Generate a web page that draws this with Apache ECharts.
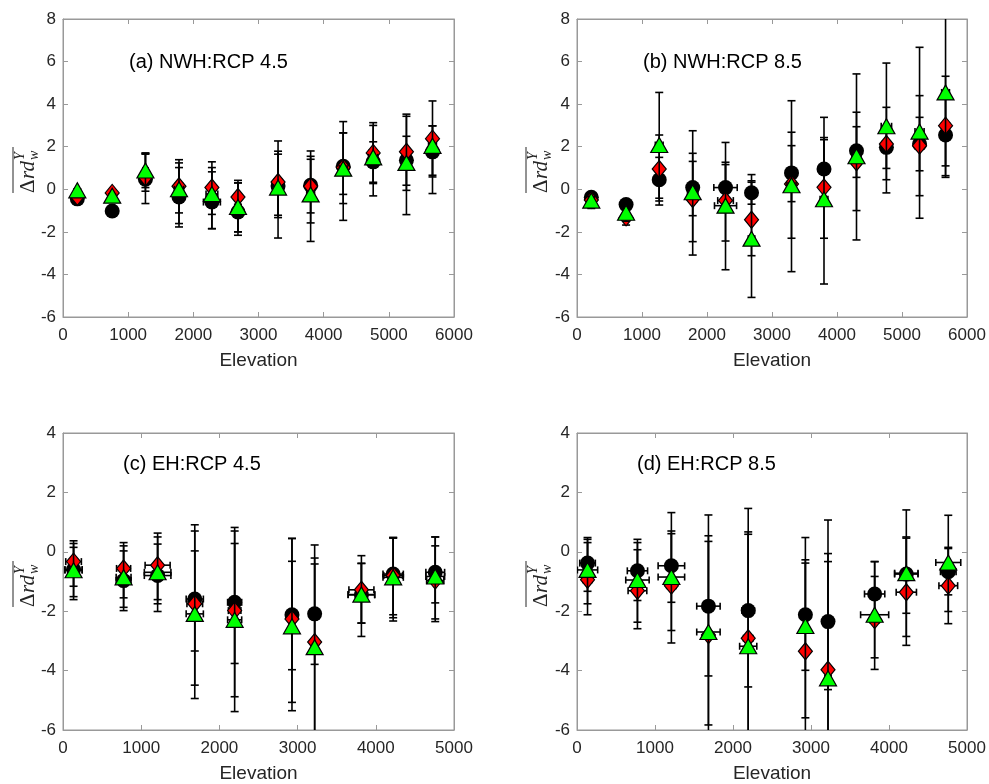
<!DOCTYPE html>
<html><head><meta charset="utf-8">
<script src="https://cdn.jsdelivr.net/npm/echarts@6/dist/echarts.min.js"></script>
<style>html,body{margin:0;padding:0;background:#fff}#c{width:989px;height:784px}</style>
</head><body><div id="c"></div>
<script>
// ---------------- DATA ----------------
const elevNWH = [220, 755, 1265, 1780, 2285, 2685, 3300, 3800, 4300, 4760, 5270, 5670];
const elevEH  = [135, 775, 1210, 1685, 2195, 2928, 3218, 3816, 4222, 4760];
const ticksY_NWH = [-6, -4, -2, 0, 2, 4, 6, 8];
const ticksY_EH  = [-6, -4, -2, 0, 2, 4];

// (a) NWH:RCP 4.5
const a_black_y  = [-0.45, -1.02, 0.47, -0.36, -0.60, -1.07, 0.15, 0.19, 1.08, 1.29, 1.36, 1.76];
const a_black_lo = [-0.55, -1.10, -0.67, -1.61, -1.85, -2.16, -1.33, -1.58, -0.67, 0.33, 0.19, 0.58];
const a_black_hi = [-0.35, -0.95, 1.65, 1.02, 0.82, 0.30, 1.65, 1.80, 2.65, 2.23, 2.49, 2.98];
const a_black_xe = [0, 0, 50, 80, 130, 60, 80, 60, 70, 80, 60, 60];
const a_red_y    = [-0.35, -0.17, 0.55, 0.14, 0.08, -0.36, 0.34, 0.14, 1.02, 1.71, 1.76, 2.38];
const a_red_lo   = [-0.45, -0.25, -0.09, -1.11, -1.18, -2.00, -1.22, -1.11, -0.24, -0.31, -0.05, 0.66];
const a_red_hi   = [-0.25, -0.10, 1.71, 1.39, 1.29, 0.42, 1.79, 1.41, 3.18, 3.13, 3.53, 4.15];
const a_red_xe   = [0, 0, 40, 60, 60, 40, 60, 50, 50, 60, 50, 50];
const a_green_y  = [-0.05, -0.30, 0.88, 0.00, -0.22, -0.83, 0.08, -0.24, 0.97, 1.50, 1.24, 2.04];
const a_green_lo = [-0.12, -0.38, 0.08, -1.77, -1.85, -2.00, -2.29, -2.45, -1.46, 0.27, -1.19, -0.20];
const a_green_hi = [0.02, -0.22, 1.68, 1.24, 1.02, 0.30, 2.27, 1.55, 2.65, 3.00, 3.43, 2.98];
const a_green_xe = [0, 0, 40, 70, 90, 50, 70, 60, 60, 70, 60, 60];

// (b) NWH:RCP 8.5
const b_black_y  = [-0.38, -0.72, 0.45, 0.08, 0.08, -0.16, 0.77, 0.95, 1.81, 1.97, 2.13, 2.55];
const b_black_lo = [-0.55, -0.90, -0.55, -1.24, -1.00, -0.70, -0.58, -0.45, 0.56, 0.98, 0.87, 0.56];
const b_black_hi = [-0.20, -0.55, 1.50, 1.31, 1.16, 0.40, 2.05, 2.33, 2.94, 2.96, 3.38, 4.50];
const b_black_xe = [30, 30, 40, 60, 180, 50, 50, 50, 60, 60, 50, 50];
const b_red_y    = [-0.50, -1.32, 0.95, -0.46, -0.53, -1.43, 0.25, 0.09, 1.27, 2.13, 2.05, 2.99];
const b_red_lo   = [-0.90, -1.68, -0.74, -2.46, -2.43, -3.12, -2.30, -2.30, -1.00, 0.45, -0.30, 0.64];
const b_red_hi   = [-0.20, -0.95, 2.55, 1.69, 1.27, 0.33, 2.68, 2.43, 3.62, 3.85, 4.40, 5.31];
const b_red_xe   = [30, 30, 40, 60, 120, 50, 60, 50, 60, 60, 60, 60];
const b_green_y  = [-0.53, -1.10, 2.08, -0.14, -0.77, -2.32, 0.19, -0.47, 1.55, 2.96, 2.71, 4.55];
const b_green_lo = [-0.70, -1.50, -0.42, -3.09, -3.78, -5.08, -3.87, -4.45, -2.38, -0.17, -1.36, 1.10];
const b_green_hi = [-0.35, -0.70, 4.55, 2.75, 2.20, 0.69, 4.16, 3.38, 5.42, 5.93, 6.67, 8.50];
const b_green_xe = [40, 40, 60, 80, 170, 50, 70, 60, 70, 80, 70, 60];

// (c) EH:RCP 4.5
const c_black_y  = [-0.60, -0.97, -0.80, -1.59, -1.70, -2.12, -2.09, -1.45, -0.75, -0.69];
const c_black_lo = [-1.51, -1.87, -1.75, -3.34, -3.76, -3.97, -3.79, -2.40, -2.12, -1.72];
const c_black_hi = [0.28, 0.20, 0.50, 0.03, 0.28, -0.32, -0.41, -0.39, 0.48, 0.20];
const c_black_xe = [110, 95, 170, 110, 90, 30, 30, 170, 130, 120];
const c_red_y    = [-0.33, -0.56, -0.45, -1.75, -1.98, -2.26, -3.04, -1.28, -0.80, -0.97];
const c_red_lo   = [-1.16, -1.55, -1.61, -4.49, -4.88, -5.07, -6.30, -2.40, -2.22, -2.26];
const c_red_hi   = [0.37, 0.31, 0.63, 0.91, 0.82, 0.45, 0.23, -0.13, 0.46, 0.50];
const c_red_xe   = [100, 90, 160, 100, 80, 30, 30, 160, 120, 110];
const c_green_y  = [-0.62, -0.86, -0.69, -2.09, -2.29, -2.51, -3.21, -1.44, -0.86, -0.83];
const c_green_lo = [-1.61, -1.98, -2.01, -4.94, -5.38, -5.35, -6.50, -2.85, -2.33, -2.35];
const c_green_hi = [0.15, 0.03, 0.26, 0.70, 0.70, 0.45, -0.21, -0.39, 0.48, 0.50];
const c_green_xe = [110, 95, 170, 110, 90, 30, 30, 170, 130, 120];

// (d) EH:RCP 8.5
const d_black_y  = [-0.38, -0.64, -0.47, -1.83, -1.98, -2.12, -2.35, -1.42, -0.75, -0.67];
const d_black_lo = [-1.33, -1.64, -1.70, -4.18, -4.55, -3.99, -4.64, -2.40, -2.07, -1.45];
const d_black_hi = [0.48, 0.31, 0.70, 0.54, 0.59, -0.27, -0.06, -0.33, 0.50, 0.11];
const d_black_xe = [100, 130, 170, 150, 80, 30, 30, 130, 150, 100];
const d_red_y    = [-0.94, -1.31, -1.14, -2.80, -2.91, -3.35, -3.97, -2.30, -1.36, -1.14];
const d_red_lo   = [-2.12, -2.59, -3.07, -5.83, -6.50, -6.50, -7.60, -3.57, -3.15, -2.42];
const d_red_hi   = [0.31, 0.07, 0.61, 0.35, 0.67, -0.38, -0.33, -0.83, 0.46, 0.15];
const d_red_xe   = [60, 120, 60, 40, 60, 30, 30, 60, 130, 120];
const d_green_y  = [-0.61, -0.95, -0.85, -2.70, -3.18, -2.50, -4.26, -2.12, -0.72, -0.36];
const d_green_lo = [-1.75, -2.37, -2.65, -6.60, -7.80, -5.59, -9.60, -3.96, -2.85, -2.01];
const d_green_hi = [0.42, 0.42, 1.32, 1.24, 1.46, 0.48, 1.07, -0.33, 1.41, 1.23];
const d_green_xe = [130, 150, 170, 150, 110, 30, 40, 180, 150, 160];

const panelTitles = ['(a) NWH:RCP 4.5', '(b) NWH:RCP 8.5', '(c) EH:RCP 4.5', '(d) EH:RCP 8.5'];
const xLabel = 'Elevation';

// ---------------- BUILD ----------------
const panels = [
  {elev: elevNWH, xMax: 6000, yT: ticksY_NWH, s: [
    [a_black_y, a_black_lo, a_black_hi, a_black_xe],
    [a_red_y, a_red_lo, a_red_hi, a_red_xe],
    [a_green_y, a_green_lo, a_green_hi, a_green_xe]]},
  {elev: elevNWH, xMax: 6000, yT: ticksY_NWH, s: [
    [b_black_y, b_black_lo, b_black_hi, b_black_xe],
    [b_red_y, b_red_lo, b_red_hi, b_red_xe],
    [b_green_y, b_green_lo, b_green_hi, b_green_xe]]},
  {elev: elevEH, xMax: 5000, yT: ticksY_EH, s: [
    [c_black_y, c_black_lo, c_black_hi, c_black_xe],
    [c_red_y, c_red_lo, c_red_hi, c_red_xe],
    [c_green_y, c_green_lo, c_green_hi, c_green_xe]]},
  {elev: elevEH, xMax: 5000, yT: ticksY_EH, s: [
    [d_black_y, d_black_lo, d_black_hi, d_black_xe],
    [d_red_y, d_red_lo, d_red_hi, d_red_xe],
    [d_green_y, d_green_lo, d_green_hi, d_green_xe]]}
];

const layout = [
  {left: 63, top: 19, width: 391, height: 298},
  {left: 577, top: 19, width: 390, height: 298},
  {left: 63, top: 433, width: 391, height: 299},
  {left: 577, top: 433, width: 390, height: 299}
];
const titlePos = [[129, 52], [643, 52], [123, 454], [637, 454]];
const ylabPos = [[27, 168], [540, 168], [27, 582], [540, 582]];

const markerStyles = [
  {symbol: 'circle', size: 15, color: '#000000', border: '#000000'},
  {symbol: 'diamond', size: [14, 17], color: '#ff0000', border: '#000000'},
  {symbol: 'triangle', size: [17, 15], color: '#00ff00', border: '#000000'}
];

const axisGrey = '#999999';
const textCol = '#262626';
const fontSans = 'Liberation Sans, Arial, sans-serif';

function errRender(yMin, yMax) {
  return function (params, api) {
    const x = api.value(0), y = api.value(1), lo = api.value(2), hi = api.value(3), xe = api.value(4);
    const lo2 = Math.max(lo, yMin), hi2 = Math.min(hi, yMax);
    const pLo = api.coord([x, lo2]), pHi = api.coord([x, hi2]);
    const st = {stroke: '#000', lineWidth: 1.6};
    const cw = 4;
    const ch = [{type: 'line', shape: {x1: pLo[0], y1: pLo[1], x2: pHi[0], y2: pHi[1]}, style: st}];
    if (lo >= yMin) ch.push({type: 'line', shape: {x1: pLo[0] - cw, y1: pLo[1], x2: pLo[0] + cw, y2: pLo[1]}, style: st});
    if (hi <= yMax) ch.push({type: 'line', shape: {x1: pHi[0] - cw, y1: pHi[1], x2: pHi[0] + cw, y2: pHi[1]}, style: st});
    if (xe > 0) {
      const pl = api.coord([x - xe, y]), pr = api.coord([x + xe, y]);
      ch.push({type: 'line', shape: {x1: pl[0], y1: pl[1], x2: pr[0], y2: pr[1]}, style: st});
      ch.push({type: 'line', shape: {x1: pl[0], y1: pl[1] - 3.5, x2: pl[0], y2: pl[1] + 3.5}, style: st});
      ch.push({type: 'line', shape: {x1: pr[0], y1: pr[1] - 3.5, x2: pr[0], y2: pr[1] + 3.5}, style: st});
    }
    return {type: 'group', children: ch};
  };
}

const plain = v => String(v);
const grid = [], xAxis = [], yAxis = [], series = [], title = [], graphic = [];
panels.forEach((p, g) => {
  grid.push(Object.assign({show: true, borderColor: axisGrey, borderWidth: 1, backgroundColor: '#fff'}, layout[g]));
  const yMin = p.yT[0], yMax = p.yT[p.yT.length - 1];
  const baseX = {type: 'value', gridIndex: g, min: 0, max: p.xMax, interval: 1000,
    splitLine: {show: false}, axisLine: {show: true, onZero: false, lineStyle: {color: axisGrey, width: 1}},
    axisTick: {show: true, inside: true, length: 5, lineStyle: {color: axisGrey}}};
  xAxis.push(Object.assign({}, baseX, {position: 'bottom',
    axisLabel: {color: textCol, fontSize: 17, fontFamily: fontSans, margin: 10, formatter: plain},
    name: xLabel, nameLocation: 'middle', nameGap: 34,
    nameTextStyle: {color: textCol, fontSize: 19, fontFamily: fontSans}}));
  xAxis.push(Object.assign({}, baseX, {position: 'top', axisLabel: {show: false}}));
  const baseY = {type: 'value', gridIndex: g, min: yMin, max: yMax, interval: 2,
    splitLine: {show: false}, axisLine: {show: true, onZero: false, lineStyle: {color: axisGrey, width: 1}},
    axisTick: {show: true, inside: true, length: 5, lineStyle: {color: axisGrey}}};
  yAxis.push(Object.assign({}, baseY, {position: 'left',
    axisLabel: {color: textCol, fontSize: 17, fontFamily: fontSans, margin: 7, formatter: plain}}));
  yAxis.push(Object.assign({}, baseY, {position: 'right', axisLabel: {show: false}}));

  p.s.forEach((arr, k) => {
    const [ys, los, his, xes] = arr;
    const rows = p.elev.map((e, i) => [e, ys[i], los[i], his[i], xes[i]]);
    series.push({type: 'custom', xAxisIndex: 2 * g, yAxisIndex: 2 * g, data: rows,
      renderItem: errRender(yMin, yMax), z: 2 + 2 * k, silent: true, clip: true, animation: false});
    const m = markerStyles[k];
    series.push({type: 'scatter', xAxisIndex: 2 * g, yAxisIndex: 2 * g,
      data: p.elev.map((e, i) => [e, ys[i]]), symbol: m.symbol, symbolSize: m.size,
      itemStyle: {color: m.color, borderColor: m.border, borderWidth: k === 0 ? 0 : 1.2, opacity: 1},
      z: 3 + 2 * k, silent: true, animation: false});
  });

  title.push({text: panelTitles[g], left: titlePos[g][0], top: titlePos[g][1], padding: 0,
    textStyle: {fontSize: 20, fontWeight: 'normal', color: '#000', fontFamily: fontSans}});

  const serif = 'Liberation Serif, DejaVu Serif, serif';
  graphic.push({type: 'group', x: ylabPos[g][0], y: ylabPos[g][1], rotation: Math.PI / 2, silent: true,
    children: [
      {type: 'text', x: -25, y: 1, style: {text: 'Δ', font: '21px ' + serif, fill: '#262626', textVerticalAlign: 'middle'}},
      {type: 'text', x: -11, y: 1, style: {text: 'rd', font: 'italic 21px ' + serif, fill: '#262626', textVerticalAlign: 'middle'}},
      {type: 'text', x: 8, y: -7, style: {text: 'Y', font: 'italic 14px ' + serif, fill: '#262626', textVerticalAlign: 'middle'}},
      {type: 'text', x: 8, y: 7, style: {text: 'w', font: 'italic 14px ' + serif, fill: '#262626', textVerticalAlign: 'middle'}},
      {type: 'line', shape: {x1: -25, y1: -14, x2: 21, y2: -14}, style: {stroke: '#262626', lineWidth: 1}}
    ]});
});

const chart = echarts.init(document.getElementById('c'), null, {renderer: 'canvas'});
chart.setOption({animation: false, backgroundColor: '#ffffff', grid, xAxis, yAxis, series, title, graphic});
</script></body></html>
